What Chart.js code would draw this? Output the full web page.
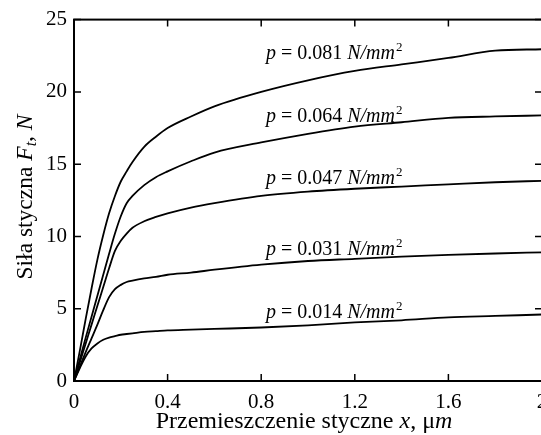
<!DOCTYPE html>
<html>
<head>
<meta charset="utf-8">
<script src="https://cdn.jsdelivr.net/npm/chart.js@4.4.1/dist/chart.umd.min.js"></script>
<style>
  html, body { margin: 0; padding: 0; background: #fff; overflow: hidden; }
  #wrap { width: 600px; height: 435px; }
</style>
</head>
<body>
<div id="wrap"><canvas id="myChart" width="600" height="435"></canvas></div>
<script>
// tangential displacement x, um
const disp = [0, 0.025, 0.05, 0.075, 0.1, 0.125, 0.15, 0.175, 0.2, 0.225, 0.25, 0.3, 0.35, 0.4,
              0.5, 0.6, 0.8, 1.0, 1.2, 1.4, 1.6, 1.8, 2.0];

// tangential force F_t, N for each pressure
const p081 = [0, 2.1, 4.3, 6.4, 8.4, 10.1, 11.6, 12.8, 13.8, 14.5, 15.15, 16.2, 16.9, 17.5,
              18.3, 19.0, 20.0, 20.8, 21.45, 21.9, 22.35, 22.85, 22.95];
const p064 = [0, 1.5, 3.0, 4.45, 5.9, 7.35, 8.8, 10.2, 11.4, 12.3, 12.8, 13.55, 14.1, 14.5,
              15.2, 15.8, 16.5, 17.1, 17.6, 17.9, 18.2, 18.3, 18.37];
const p047 = [0, 1.3, 2.6, 3.9, 5.2, 6.5, 7.8, 9.0, 9.7, 10.2, 10.6, 11.05, 11.35, 11.6,
              12.0, 12.3, 12.8, 13.1, 13.3, 13.45, 13.6, 13.75, 13.85];
const p031 = [0, 1.0, 2.0, 2.95, 3.9, 4.9, 5.8, 6.35, 6.65, 6.85, 6.95, 7.1, 7.2, 7.35,
              7.5, 7.7, 8.05, 8.3, 8.45, 8.6, 8.72, 8.82, 8.9];
const p014 = [0, 0.9, 1.7, 2.25, 2.6, 2.85, 3.0, 3.1, 3.2, 3.25, 3.3, 3.4, 3.45, 3.5,
              3.55, 3.6, 3.7, 3.85, 4.05, 4.2, 4.4, 4.5, 4.6];

// curve labels (placed in data units)
const labelText = ['0.081', '0.064', '0.047', '0.031', '0.014'];
const labelX = [0.82, 0.82, 0.82, 0.82, 0.82];
const labelY = [22.3, 17.94, 13.6, 8.71, 4.39];

const serif = '"Liberation Serif", "Times New Roman", serif';

function pts(ys) {
    return disp.map((x, i) => ({ x: x, y: ys[i] }));
}
function ds(ys) {
    return {
        data: pts(ys),
        borderColor: '#000',
        borderWidth: 1.8,
        pointRadius: 0,
        fill: false,
        cubicInterpolationMode: 'monotone'
    };
}

// draw a run of text pieces with mixed styles starting at x
function drawRun(ctx, pieces, x, y) {
    pieces.forEach(p => {
        const size = p.size || 20;
        ctx.font = (p.italic ? 'italic ' : '') + size + 'px ' + serif;
        ctx.fillText(p.t, x, y + (p.dy || 0));
        x += ctx.measureText(p.t).width + (p.gap || 0);
    });
    return x;
}
function runWidth(ctx, pieces) {
    let w = 0;
    pieces.forEach(p => {
        ctx.font = (p.italic ? 'italic ' : '') + (p.size || 20) + 'px ' + serif;
        w += ctx.measureText(p.t).width + (p.gap || 0);
    });
    return w;
}

const extras = {
    id: 'extras',
    afterDraw(chart) {
        const ctx = chart.ctx;
        const a = chart.chartArea;
        const xs = chart.scales.x, ys = chart.scales.y;
        ctx.save();
        ctx.strokeStyle = '#000';
        ctx.lineWidth = 2;
        ctx.strokeRect(a.left, a.top, a.right - a.left, a.bottom - a.top);

        // inward ticks on all four sides
        ctx.lineWidth = 1.5;
        ctx.beginPath();
        xs.ticks.forEach(t => {
            const px = xs.getPixelForValue(t.value);
            ctx.moveTo(px, a.bottom); ctx.lineTo(px, a.bottom - 7);
            ctx.moveTo(px, a.top); ctx.lineTo(px, a.top + 7);
        });
        ys.ticks.forEach(t => {
            const py = ys.getPixelForValue(t.value);
            ctx.moveTo(a.left, py); ctx.lineTo(a.left + 7, py);
            ctx.moveTo(a.right, py); ctx.lineTo(a.right - 7, py);
        });
        ctx.stroke();

        ctx.fillStyle = '#000';
        ctx.textBaseline = 'alphabetic';
        ctx.textAlign = 'left';

        // curve labels
        labelText.forEach((v, i) => {
            const x = xs.getPixelForValue(labelX[i]);
            const y = ys.getPixelForValue(labelY[i]);
            drawRun(ctx, [
                { t: 'p', italic: true },
                { t: ' = ' + v + ' ' },
                { t: 'N/mm', italic: true, gap: 1 },
                { t: '2', size: 13, dy: -8 }
            ], x, y);
        });

        // x title
        const xt = [
            { t: 'Przemieszczenie styczne ', size: 24 },
            { t: 'x', italic: true, size: 24 },
            { t: ', \u03bc', size: 24 },
            { t: 'm', italic: true, size: 24 }
        ];
        const xw = runWidth(ctx, xt);
        drawRun(ctx, xt, 304 - xw / 2, 428);

        // y title
        const yt = [
            { t: 'Si\u0142a styczna ', size: 23.5 },
            { t: 'F', italic: true, size: 23.5 },
            { t: 't', italic: true, size: 16, dy: 4 },
            { t: ', ', size: 23.5 },
            { t: 'N', italic: true, size: 23.5 }
        ];
        const yw = runWidth(ctx, yt);
        ctx.translate(32, 197);
        ctx.rotate(-Math.PI / 2);
        drawRun(ctx, yt, -yw / 2, 0);
        ctx.restore();
    }
};

const ctx = document.getElementById('myChart').getContext('2d');
const myChart = new Chart(ctx, {
    type: 'line',
    data: {
        datasets: [ds(p081), ds(p064), ds(p047), ds(p031), ds(p014)]
    },
    options: {
        responsive: false,
        animation: false,
        layout: { padding: { left: 0, right: 58, top: 15, bottom: 0 } },
        plugins: {
            legend: { display: false },
            tooltip: { enabled: false }
        },
        scales: {
            x: {
                type: 'linear',
                min: 0,
                max: 2,
                grid: { display: false, drawTicks: false },
                border: { display: false },
                ticks: {
                    stepSize: 0.4,
                    color: '#000',
                    padding: 9,
                    maxRotation: 0,
                    font: { family: serif, size: 21 },
                    callback: v => String(Math.round(v * 10) / 10)
                },
                afterFit(scale) { scale.height = 54; }
            },
            y: {
                min: 0,
                max: 25,
                grid: { display: false, drawTicks: false },
                border: { display: false },
                ticks: {
                    stepSize: 5,
                    color: '#000',
                    padding: 7,
                    font: { family: serif, size: 21 }
                },
                afterFit(scale) { scale.width = 74; }
            }
        }
    },
    plugins: [extras]
});
</script>
</body>
</html>
